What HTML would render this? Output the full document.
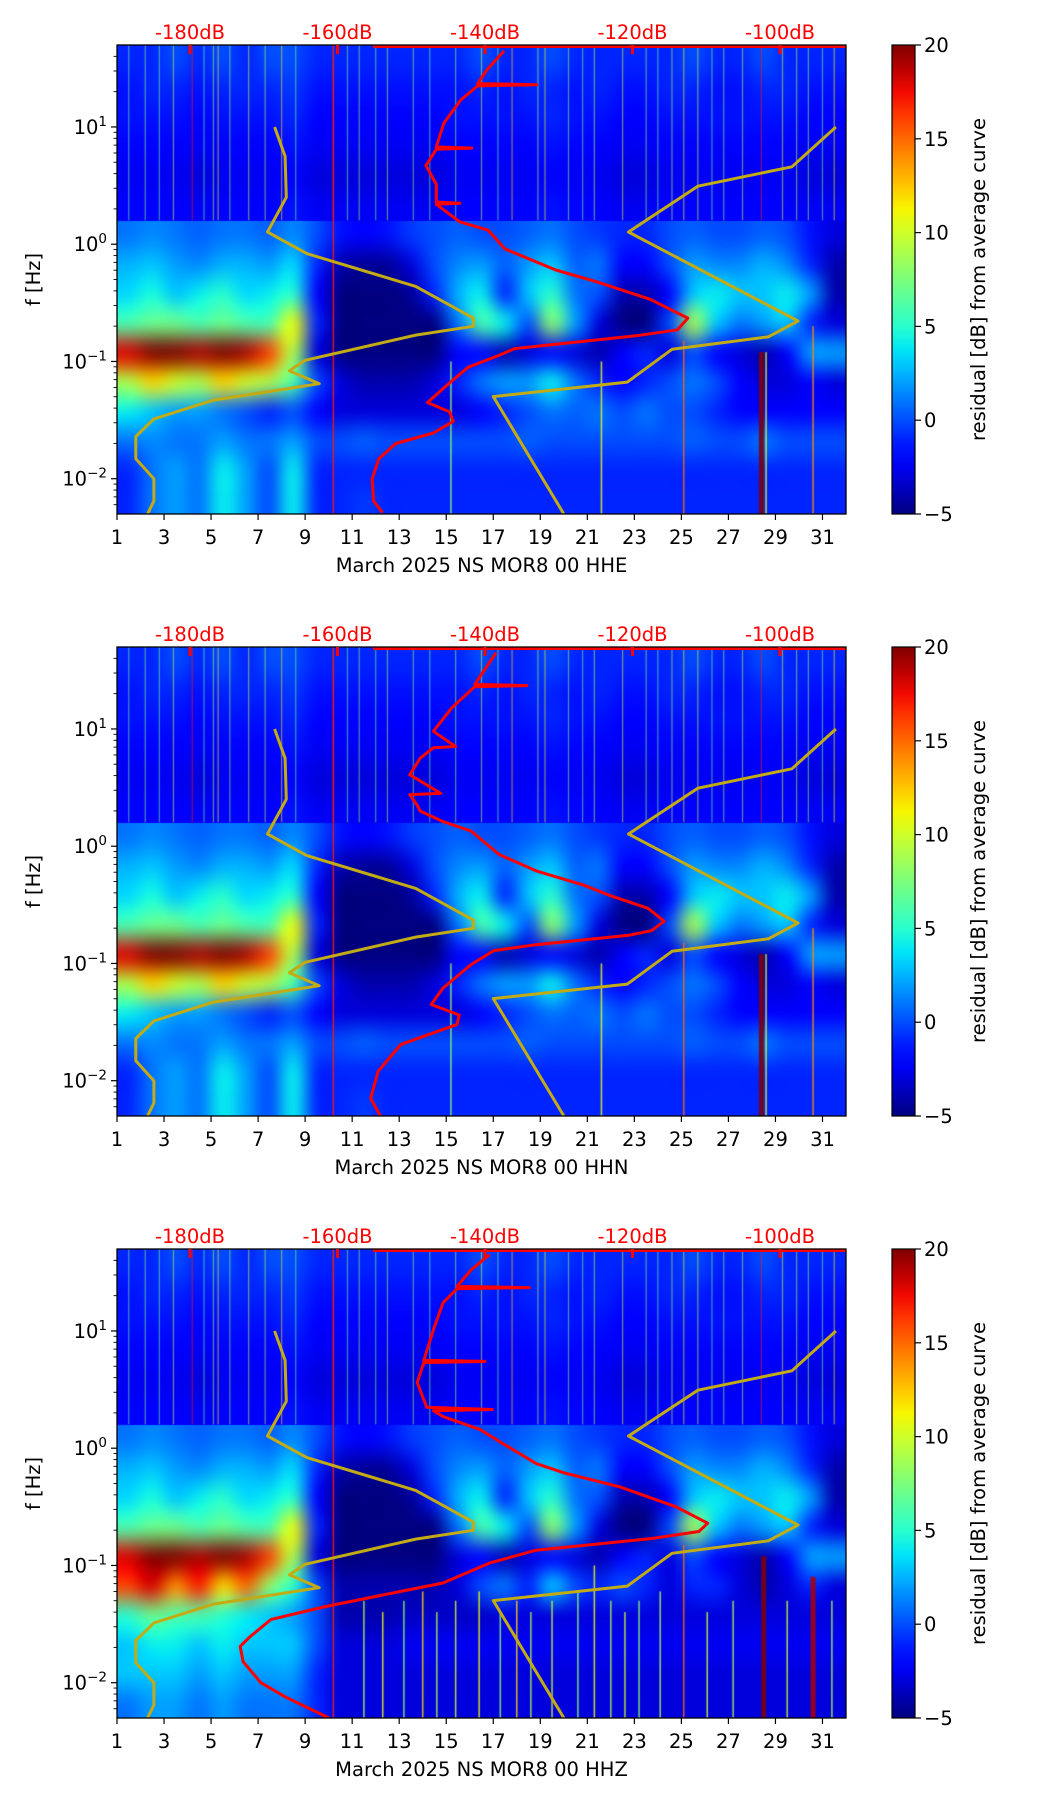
<!DOCTYPE html>
<html><head><meta charset="utf-8">
<style>
html,body{margin:0;padding:0;background:#fff;}
#fig{position:relative;width:1052px;height:1806px;background:#fff;overflow:hidden;font-family:"DejaVu Sans","Liberation Sans",sans-serif;}
canvas{position:absolute;}
svg{position:absolute;left:0;top:0;}
</style></head>
<body>
<div id="fig">
<svg id="ov" width="1052" height="1806"></svg>
</div>
<script>
// ---------- data ----------
const days = [1,3,5,7,9,11,13,15,17,19,21,23,25,27,29,31];
const dbTicks = [-180,-160,-140,-120,-100];
const cbTicks = [-5,0,5,10,15,20];
const yTickLogs = [1,0,-1,-2];
const panelTitles = ["March 2025 NS MOR8 00 HHE","March 2025 NS MOR8 00 HHN","March 2025 NS MOR8 00 HHZ"];

const heat1 = [
[-1,-1,0,-1,0,-1,0,0,-1,-1,-1,-1,-1,-1,-1,0,-1,-1,0,-1,-1,-1,-1,-1,0,-1,-1,0,-1,-1,-1],
[-1.5,-1,-1,-1.5,-1,-1,-1,-0.5,-1.5,-1.5,-1.5,-1.5,-1.5,-1.5,-1.5,-1,-1.5,-1,-1,-1.5,-1,-1.5,-1.5,-1,-1,-1.5,-1.5,-1,-1,-1.5,-1.5],
[-1.5,-1.5,-1.5,-2,-1.5,-1.5,-1.5,-1,-2,-2,-2,-2,-2,-2,-1.5,-1.5,-1.5,-1.5,-1,-1.5,-1.5,-2,-2,-1.5,-1.5,-1.5,-1.5,-1.5,-1.5,-2,-2],
[-2,-2,-2,-2.5,-2,-2,-2,-1.5,-2.5,-2.5,-2.5,-2.5,-2.5,-2.5,-2,-2,-2,-2,-1.5,-2,-2,-2.5,-2.5,-2,-2,-2,-2,-2,-2,-2.5,-2.5],
[-2.5,-2.5,-2.5,-3,-2.5,-2.5,-2.5,-2,-3,-3,-3,-3,-3,-3,-2.5,-2.5,-2.5,-2.5,-2,-2.5,-2.5,-3,-3,-2.5,-2.5,-2.5,-2.5,-2.5,-2.5,-3,-3],
[-2,-2,-2,-2.5,-2,-2,-2,-1.5,-2.5,-2.5,-2.5,-2.5,-2.5,-2.5,-2,-2,-2,-2,-1.5,-2,-2,-2.5,-2.5,-2,-2,-2,-2,-2,-2,-2.5,-2.5],
[1,1.5,1,0.5,1,1,0.5,1.5,0,-1.5,-2,-1.5,-0.5,0,0.5,0,0,0.5,1,0,-0.5,-1,-1,0,0.5,0,0,0.5,0,-1.5,-3],
[2.5,3,2,1.5,2.5,2.5,2,3.5,-1,-4,-4.5,-4.5,-3,0,1.5,2,0.5,2,3,0.5,1,-2,-2,0,2,1.5,1.5,2.5,1.5,-1,-4],
[3.5,4.5,3,4,5,3.5,4,5,-2,-5,-5,-5,-4.5,-1,2.5,4,-1,3,5,1,0,-4,-4,-2,3,4,3,3,4,2,-4],
[6,7,7,6,7,6,6,11,-1,-5,-5,-5,-5,-5,1,6,4,0,8,2,-3,-5,-5,0,9,3,1,2,3,-1,-3],
[18,20,20,19,20,19,16,9,-3,-5,-5,-5,-5,-5,-2,-2,-4,-3,-2,-3,-4,-2,-1,-3,0,-2,-3,-4,-2,2,2],
[9,12,10,9,12,10,9,6,0,-3,-4,-4,-4,-3,-1,1,2,2,4,1,-1,-2,-1,0,1,0,-2,-3,-3,-2,-3],
[4,3,2,2,1,0,-1,0,-2,-3,-3,-3,-3,-3,-3,-2,-1,0,1,0.5,1,0,1,0,0,-1,-2,-2,-2,-2,-2],
[1,1.5,1,1,2,1,1,2,0,0,0.5,0,0,0,0,0,0,0.5,0,0,0,0,0,0,0.5,0,0,1,0,0,0],
[-1,1,2,1,4,2,0,4,-1,-1,-1,-1,-1,-1,-1,-1,-1,-1,-1,-1,-1,-1,-1,-1,-1,-1,-1,-1,-1,-1,-1],
[-1,1,2,1,4,2,0,4,-1,-1,-0.5,-1,-1,-1,-1,-1,-1,-1,-1,-1,-1,-1,-1,-1,-1,-1,-1,-1,-1,-1,-1]
];
const heat3 = [
[-1,-1,0,-1,0,-1,0,0,-1,-1,-1,-1,-1,-1,-1,0,-1,-1,0,-1,-1,-1,-1,-1,0,-1,-1,0,-1,-1,-1],
[-1.5,-1,-1,-1.5,-1,-1,-1,-0.5,-1.5,-1.5,-1.5,-1.5,-1.5,-1.5,-1.5,-1,-1.5,-1,-1,-1.5,-1,-1.5,-1.5,-1,-1,-1.5,-1.5,-1,-1,-1.5,-1.5],
[-1.5,-1.5,-1.5,-2,-1.5,-1.5,-1.5,-1,-2,-2,-2,-2,-2,-2,-1.5,-1.5,-1.5,-1.5,-1,-1.5,-1.5,-2,-2,-1.5,-1.5,-1.5,-1.5,-1.5,-1.5,-2,-2],
[-2,-2,-2,-2.5,-2,-2,-2,-1.5,-2.5,-2.5,-2.5,-2.5,-2.5,-2.5,-2,-2,-2,-2,-1.5,-2,-2,-2.5,-2.5,-2,-2,-2,-2,-2,-2,-2.5,-2.5],
[-2.5,-2.5,-2.5,-3,-2.5,-2.5,-2.5,-2,-3,-3,-3,-3,-3,-3,-2.5,-2.5,-2.5,-2.5,-2,-2.5,-2.5,-3,-3,-2.5,-2.5,-2.5,-2.5,-2.5,-2.5,-3,-3],
[-2,-2,-2,-2.5,-2,-2,-2,-1.5,-2.5,-2.5,-2.5,-2.5,-2.5,-2.5,-2,-2,-2,-2,-1.5,-2,-2,-2.5,-2.5,-2,-2,-2,-2,-2,-2,-2.5,-2.5],
[1,1.5,1,0.5,1,1,0.5,1.5,0,-1.5,-2,-1.5,-0.5,0,0.5,0,0,0.5,1,0,-0.5,-1,-1,0,0.5,0,0,0.5,0,-1.5,-3],
[2.5,3,2,1.5,2.5,2.5,2,3.5,-1,-4,-4.5,-4.5,-3,0,1.5,2,0.5,2,3,0.5,1,-2,-2,0,2,1.5,1.5,2.5,1.5,-1,-4],
[3.5,4.5,3,4,5,3.5,4,5,-2,-5,-5,-5,-4.5,-1,2.5,4,-1,3,5,1,0,-4,-4,-2,3,4,3,3,4,2,-4],
[6,7,7,6,7,6,6,11,-1,-5,-5,-5,-5,-5,1,6,4,0,8,2,-3,-5,-5,0,9,3,1,2,3,-1,-3],
[18,20,20,19,20,19,16,9,-3,-5,-5,-5,-5,-5,-3,-2,-4,-3,-2,-3,-4,-2,-1,-3,0,-2,-3,-4,-2,2,2],
[16,18,14,17,12,15,8,5,0,-4,-4,-4,-4,-4,-3,0,1,-1,3,0,-1,0,-1,-3,-1,-1,-3,-4,-3,-1,-3],
[5,7,6,6,5,4,3,2,0,-4,-4,-4,-3.5,-3.5,-3.5,-3.5,-3,-3,-3,-3,-3,-3,-3,-3,-3,-3,-3,-3,-3,-3,-3],
[3,4,4,3,4,3,3,3,0,-3,-3,-3,-2.5,-2.5,-2.5,-2.5,-2.5,-2.5,-2.5,-2.5,-2.5,-2.5,-2.5,-2.5,-2.5,-2.5,-2.5,-2.5,-2.5,-2.5,-2.5],
[3,3,3,2,3,2,2,2,-1,-3,-3,-3,-3,-3,-3,-3,-3,-3,-3,-3,-3,-3,-3,-3,-3,-3,-3,-3,-3,-3,-3],
[1,2,2,1,2,1,1,1,-1,-3,-3,-3,-3,-3,-3,-3,-3,-3,-3,-3,-3,-3,-3,-3,-3,-3,-3,-3,-3,-3,-3]
];

// upper-band streaks (f > 1.6 Hz): day positions and residual values
const upStreakDays = [1.5,2.2,2.8,3.4,4.2,4.7,5.1,5.3,5.8,6.6,7.3,8.0,8.6,10.2,10.8,11.3,12.0,12.5,13.6,14.3,15.4,16.5,17.2,17.8,18.9,19.2,20.2,20.8,21.3,22.5,23.5,24.0,24.6,25.1,25.7,26.3,26.8,27.6,28.4,29.3,29.9,30.4,31.0,31.5];
const upStreakVals = [7,8,7,10,17,7,9,11,8,10,9,12,7,17,7,8,7,9,8,7,8,10,7,12,9,11,8,7,9,10,8,7,9,11,10,7,8,9,17,10,9,8,7,11];
// lower streaks: day, top frequency (Hz), value
const lowStreakDays1 = [10.2,15.2,21.6,25.1,28.4,28.6,30.6];
const lowStreakTop1  = [50,0.1,0.1,0.15,0.12,0.12,0.2];
const lowStreakVals1 = [17,8,11,15,20,11,14];
const lowStreakDays3 = [10.2,11.5,12.3,13.2,14.0,14.6,15.4,16.4,17.3,18.0,18.6,19.5,20.6,21.3,22.0,22.6,23.2,24.1,25.1,26.1,27.2,28.5,29.5,30.6,31.4];
const lowStreakTop3  = [50,0.05,0.04,0.05,0.06,0.04,0.05,0.06,0.04,0.05,0.04,0.05,0.06,0.1,0.05,0.04,0.05,0.06,0.15,0.04,0.05,0.12,0.05,0.08,0.05];
const lowStreakVals3 = [17,9,11,8,12,9,10,11,8,12,9,10,8,11,9,10,8,9,15,10,9,20,10,19,9];

// yellow lines (shared)
const yelLeftDay  = [7.7,8.15,8.2,7.4,9.07,13.7,16.15,16.15,13.7,9.0,8.33,9.6,5.1,2.57,1.8,1.8,2.57,2.57,2.3];
const yelLeftLogF = [1.0,0.75,0.4,0.104,-0.08,-0.36,-0.63,-0.70,-0.775,-0.99,-1.08,-1.19,-1.33,-1.49,-1.64,-1.83,-2.0,-2.19,-2.30];
const yelRightDay  = [31.57,29.7,25.7,22.75,29.96,28.7,24.6,22.7,17.0,20.0];
const yelRightLogF = [1.0,0.66,0.495,0.104,-0.655,-0.79,-0.896,-1.176,-1.30,-2.30];

// red average curves (dB vs log f)
const red1dB = [-137.4,-139.7,-141,-133,-141,-143.3,-145.6,-146.6,-141.8,-146.6,-148,-146.6,-146.6,-143.4,-146.6,-143.4,-139.6,-137.3,-130.4,-124.9,-117.6,-112.5,-113.9,-119.4,-136,-138.2,-142.3,-145.3,-147.8,-144.8,-144.3,-147,-152.1,-154.4,-155.3,-155.1,-153.9];
const red1LogF = [1.65,1.49,1.37,1.36,1.35,1.23,1.03,0.83,0.82,0.81,0.67,0.51,0.36,0.35,0.34,0.19,0.12,-0.04,-0.22,-0.32,-0.47,-0.63,-0.73,-0.78,-0.89,-0.95,-1.05,-1.21,-1.35,-1.43,-1.51,-1.61,-1.70,-1.83,-2.0,-2.19,-2.29];
const red2dB = [-138.5,-141.4,-134.3,-141.4,-144.5,-147,-144,-147,-148.8,-150.2,-146,-150.2,-149.2,-148.8,-145.7,-141.9,-138.1,-133.1,-126.7,-123.1,-117.9,-115.7,-117.4,-120.5,-133.1,-138.8,-141.9,-145.7,-147.3,-143.5,-143.8,-151.4,-154.5,-155.5,-154.2];
const red2LogF = [1.65,1.38,1.37,1.36,1.18,0.98,0.85,0.84,0.75,0.61,0.45,0.44,0.35,0.30,0.21,0.13,-0.07,-0.21,-0.33,-0.42,-0.53,-0.64,-0.72,-0.76,-0.84,-0.89,-1.01,-1.21,-1.35,-1.44,-1.52,-1.69,-1.92,-2.15,-2.30];
const red3dB = [-139.4,-141.9,-143.8,-134,-143.8,-145.7,-147,-148.3,-140,-148.3,-149.2,-147.9,-139,-147,-145.7,-140.7,-137.6,-133.1,-129.3,-121.7,-114.1,-109.8,-111,-117.4,-133.1,-139.4,-145.7,-152.1,-161.6,-169,-171.9,-173.2,-172.8,-170.4,-167.1,-161.2];
const red3LogF = [1.65,1.52,1.38,1.37,1.36,1.24,1.01,0.75,0.74,0.73,0.56,0.35,0.33,0.32,0.27,0.16,0.04,-0.13,-0.21,-0.33,-0.50,-0.64,-0.71,-0.77,-0.87,-0.98,-1.15,-1.23,-1.35,-1.46,-1.61,-1.69,-1.82,-2.00,-2.12,-2.30];
const redTopStartDB = [-155.2,-155.2,-155.2];

// ---------- layout ----------
const X0=117, PW=729, PH=469, PANEL_TOPS=[45,647,1249];
const DAY_MIN=1, DAY_MAX=32, LOG_TOP=Math.log10(50), LOG_BOT=Math.log10(0.005);
const CBX=892, CBW=23, FS=19.5;
const NS='http://www.w3.org/2000/svg';
const ov=document.getElementById('ov');
const fig=document.getElementById('fig');

function xDay(d){return X0+(d-DAY_MIN)/(DAY_MAX-DAY_MIN)*PW;}
function xDB(db){return X0+73+(db+180)*7.375;}
function yLog(top,l){return top+(LOG_TOP-l)/(LOG_TOP-LOG_BOT)*PH;}

function interp(pts,t){for(let i=1;i<pts.length;i++){if(t<=pts[i][0]){const a=pts[i-1],b=pts[i];return a[1]+(b[1]-a[1])*(t-a[0])/(b[0]-a[0]);}}return pts[pts.length-1][1];}
function jet(v){let t=(v+5)/25;t=Math.max(0,Math.min(1,t));
 const r=interp([[0,0],[0.35,0],[0.66,1],[0.89,1],[1,0.5]],t);
 const g=interp([[0,0],[0.125,0],[0.375,1],[0.64,1],[0.91,0],[1,0]],t);
 const b=interp([[0,0.5],[0.11,1],[0.34,1],[0.65,0],[1,0]],t);
 return [Math.round(r*255),Math.round(g*255),Math.round(b*255)];}
function rgb(v){const c=jet(v);return 'rgb('+c[0]+','+c[1]+','+c[2]+')';}

function el(tag,attrs,parent){const e=document.createElementNS(NS,tag);for(const k in attrs)e.setAttribute(k,attrs[k]);(parent||ov).appendChild(e);return e;}

const defs=el('defs',{});
const grad=el('linearGradient',{id:'cbg',x1:'0',y1:'1',x2:'0',y2:'0'},defs);
for(let i=0;i<=20;i++){const v=-5+25*i/20;el('stop',{offset:(i/20),'stop-color':rgb(v)},grad);}

const heats=[heat1,heat1,heat3];
const reds=[[red1dB,red1LogF],[red2dB,red2LogF],[red3dB,red3LogF]];
const lowS=[[lowStreakDays1,lowStreakTop1,lowStreakVals1],[lowStreakDays1,lowStreakTop1,lowStreakVals1],[lowStreakDays3,lowStreakTop3,lowStreakVals3]];

function drawHeat(ctx,heat,r0,r1,dy0,dy1){
 const cols=heat[0].length, rows=r1-r0;
 const sc=document.createElement('canvas');sc.width=cols;sc.height=rows;
 const sx=sc.getContext('2d');const img=sx.createImageData(cols,rows);
 for(let r=0;r<rows;r++)for(let c=0;c<cols;c++){const col=jet(heat[r0+r][c]);const i=(r*cols+c)*4;img.data[i]=col[0];img.data[i+1]=col[1];img.data[i+2]=col[2];img.data[i+3]=255;}
 sx.putImageData(img,0,0);
 ctx.imageSmoothingEnabled=true;ctx.imageSmoothingQuality='high';
 ctx.drawImage(sc,0,0,cols,rows,0,dy0,PW,dy1-dy0);
}

for(let p=0;p<3;p++){
 const top=PANEL_TOPS[p];
 const cv=document.createElement('canvas');cv.width=PW;cv.height=PH;
 cv.style.left=X0+'px';cv.style.top=top+'px';
 
 
 fig.insertBefore(cv,ov);
 const ctx=cv.getContext('2d');
 const heat=heats[p];const nR=heat.length;
 const rowH=PH/nR;
 drawHeat(ctx,heat,0,6,0,6*rowH);
 drawHeat(ctx,heat,6,nR,6*rowH,PH);
 const yb=yLog(0,Math.log10(1.6));
 for(let i=0;i<upStreakDays.length;i++){
  const x=xDay(upStreakDays[i])-X0;ctx.fillStyle=rgb(upStreakVals[i]);ctx.globalAlpha=0.55;
  ctx.fillRect(x-0.6,0,1.2,yb);ctx.globalAlpha=1;}
 const L=lowS[p];
 for(let i=0;i<L[0].length;i++){
  const x=xDay(L[0][i])-X0;const yt=yLog(0,Math.log10(L[1][i]));
  const w=L[2][i]>=19?5:1.5;ctx.fillStyle=rgb(L[2][i]);ctx.globalAlpha=0.85;
  ctx.fillRect(x-w/2,yt,w,PH-yt);ctx.globalAlpha=1;}

 const cp=el('clipPath',{id:'clip'+p},defs);el('rect',{x:X0,y:top,width:PW,height:PH},cp);
 const g=el('g',{'clip-path':'url(#clip'+p+')'});
 
 
 [[yelLeftDay,yelLeftLogF,'yellow-line-left'],[yelRightDay,yelRightLogF,'yellow-line-right']].forEach(s=>{
  const pts=s[0].map((d,i)=>xDay(d).toFixed(1)+','+yLog(top,s[1][i]).toFixed(1)).join(' ');
  const pl=el('polyline',{points:pts,fill:'none',stroke:'#c2ab14','stroke-width':3,'stroke-linejoin':'round'},g);
  
  
 });
 const R=reds[p];
 const rp=R[0].map((db,i)=>xDB(db).toFixed(1)+','+yLog(top,R[1][i]).toFixed(1)).join(' ');
 const rl=el('polyline',{points:rp,fill:'none',stroke:'#ff0000','stroke-width':3,'stroke-linejoin':'round'},g);
 
 
 const tl=el('line',{x1:xDB(redTopStartDB[p]),y1:top+1.5,x2:X0+PW,y2:top+1.5,stroke:'#ff0000','stroke-width':3},g);
 
 

 const fr=el('rect',{x:X0,y:top,width:PW,height:PH,fill:'none',stroke:'#000','stroke-width':1.3});
 
 

 days.forEach(d=>{const x=xDay(d);
  el('line',{x1:x,y1:top+PH,x2:x,y2:top+PH+6,stroke:'#000','stroke-width':1.2});
  const t=el('text',{x:x,y:top+PH+30,'text-anchor':'middle','font-size':FS,fill:'#000'});t.textContent=d;
  
  
 });
 const xl=el('text',{x:X0+PW/2,y:top+PH+58,'text-anchor':'middle','font-size':FS,fill:'#000'});xl.textContent=panelTitles[p];
 
 

 yTickLogs.forEach(l=>{const y=yLog(top,l);
  el('line',{x1:X0-6,y1:y,x2:X0,y2:y,stroke:'#000','stroke-width':1.2});
  const t=el('text',{x:X0-10,y:y+7,'text-anchor':'end','font-size':FS,fill:'#000'});
  
  
  const a=document.createElementNS(NS,'tspan');a.textContent='10';t.appendChild(a);
  const b=document.createElementNS(NS,'tspan');b.setAttribute('dy','-8');b.setAttribute('font-size','13.5');b.textContent=(l<0?'\u2212':'')+Math.abs(l);t.appendChild(b);
 });
 for(let d=-3;d<=1;d++)for(let k=2;k<=9;k++){const l=d+Math.log10(k);if(l>LOG_BOT&&l<LOG_TOP){const y=yLog(top,l);el('line',{x1:X0-3.5,y1:y,x2:X0,y2:y,stroke:'#000','stroke-width':0.9});}}
 const yt=el('text',{x:0,y:0,'text-anchor':'middle','font-size':FS,fill:'#000',transform:'translate(40,'+(top+PH/2)+') rotate(-90)'});yt.textContent='f [Hz]';
 
 

 dbTicks.forEach(db=>{const x=xDB(db);
  el('line',{x1:x,y1:top,x2:x,y2:top+9,stroke:'#ff0000','stroke-width':3});
  const t=el('text',{x:x,y:top-6,'text-anchor':'middle','font-size':FS,fill:'#ff0000'});t.textContent=db+'dB';
  
  
 });

 const cb=el('rect',{x:CBX,y:top,width:CBW,height:PH,fill:'url(#cbg)',stroke:'#000','stroke-width':1.2});
 
 
 cbTicks.forEach(v=>{const y=top+PH-(v+5)/25*PH;
  el('line',{x1:CBX+CBW,y1:y,x2:CBX+CBW+6,y2:y,stroke:'#000','stroke-width':1.2});
  const t=el('text',{x:CBX+CBW+9,y:y+7,'font-size':FS,fill:'#000'});t.textContent=(v<0?'\u2212':'')+Math.abs(v);
  
  
 });
 const ct=el('text',{x:0,y:0,'text-anchor':'middle','font-size':FS,fill:'#000',transform:'translate(985,'+(top+PH/2)+') rotate(-90)'});ct.textContent='residual [dB] from average curve';
 
 
}
</script>
</body></html>
